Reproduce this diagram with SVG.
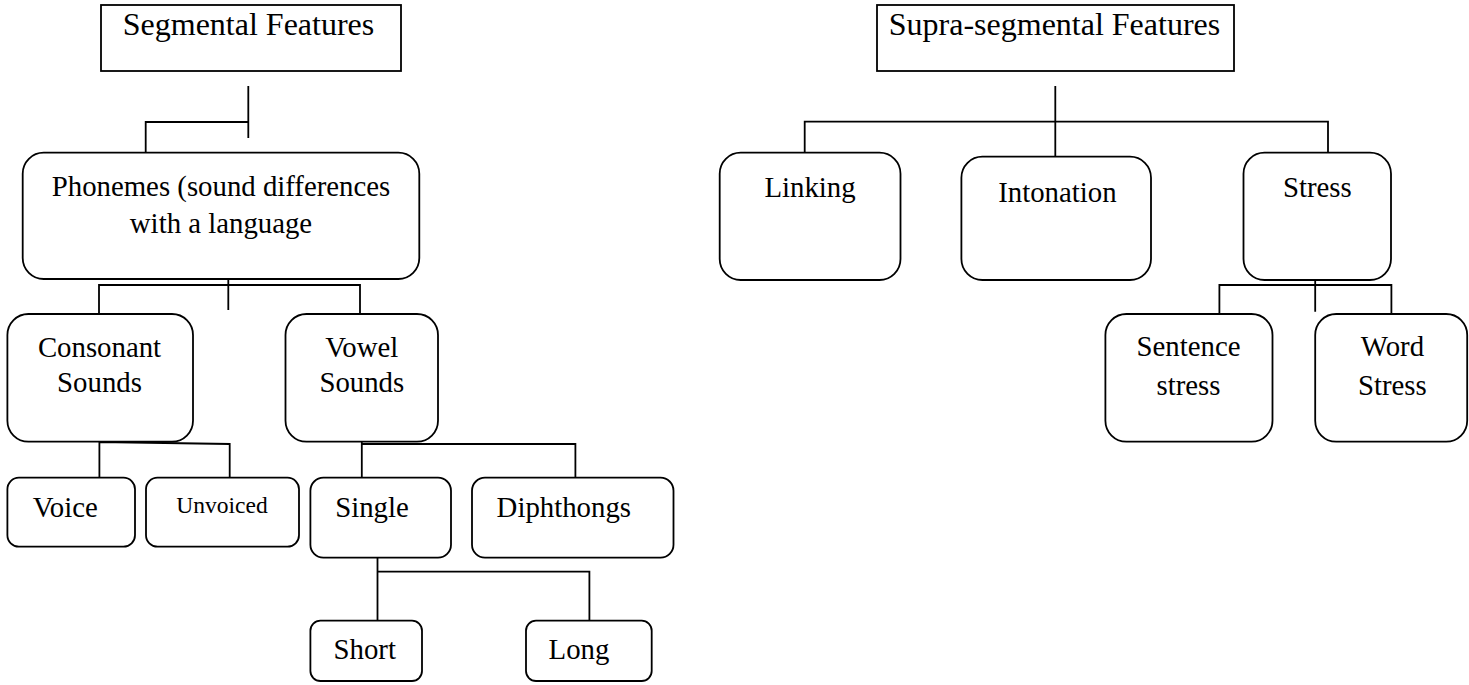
<svg xmlns="http://www.w3.org/2000/svg" width="1469" height="685" viewBox="0 0 1469 685">
<style>
.box{fill:#fff;stroke:#000;stroke-width:1.8}
.ln{fill:none;stroke:#000;stroke-width:1.8}
.n{font-family:"Liberation Serif","Times New Roman",serif;font-size:28.8px;fill:#000;text-anchor:middle}
.t{font-family:"Liberation Serif","Times New Roman",serif;font-size:32px;fill:#000;text-anchor:middle}
.s{font-family:"Liberation Serif","Times New Roman",serif;font-size:23.5px;fill:#000;text-anchor:middle}
</style>
<rect width="1469" height="685" fill="#fff"/>
<g id="connectors">
<path class="ln" d="M248.3,86 V138 M248.3,122 H145.7 V152.7"/>
<path class="ln" d="M228.3,254 V310 M99,314 V285 H360 V314"/>
<path class="ln" d="M99.4,415 V477.7 M99.4,442 L229.7,444 V477.7"/>
<path class="ln" d="M361.8,415 V477.7 M361.8,444 H575.4 V477.7"/>
<path class="ln" d="M377.5,531.7 V620.7 M377.5,571.7 H589.4 V620.7"/>
<path class="ln" d="M1055.3,86 V156.7 M804.7,152.7 V121.7 H1328 V152.7"/>
<path class="ln" d="M1315.2,254 V311.7 M1219.4,314 V285 H1391.4 V314"/>
</g>
<g id="segmental"><rect class="box" x="101" y="5" width="300" height="66"/><text class="t" x="248.5" y="35">Segmental Features</text></g>
<g id="phonemes"><rect class="box" x="22.7" y="152.7" width="396.6" height="126.3" rx="21"/><text class="n" x="221" y="195.5">Phonemes (sound differences</text><text class="n" x="221" y="232.5">with a language</text></g>
<g id="consonant"><rect class="box" x="7.4" y="314" width="185.6" height="127.7" rx="21"/><text class="n" x="99.5" y="356.7">Consonant</text><text class="n" x="99.5" y="392">Sounds</text></g>
<g id="vowel"><rect class="box" x="285.5" y="314" width="152.5" height="127.7" rx="21"/><text class="n" x="361.8" y="356.7">Vowel</text><text class="n" x="361.8" y="392">Sounds</text></g>
<g id="voice"><rect class="box" x="7.4" y="477.7" width="127.6" height="69" rx="11.5"/><text class="n" x="65.3" y="517">Voice</text></g>
<g id="unvoiced"><rect class="box" x="146" y="477.7" width="153" height="69" rx="11.5"/><text class="s" x="222" y="512.5">Unvoiced</text></g>
<g id="single"><rect class="box" x="310.4" y="477.7" width="140.6" height="80" rx="13"/><text class="n" x="372" y="517">Single</text></g>
<g id="diphthongs"><rect class="box" x="472" y="477.7" width="201.5" height="80" rx="13"/><text class="n" x="563.8" y="517">Diphthongs</text></g>
<g id="short"><rect class="box" x="310.4" y="620.7" width="111.6" height="60.3" rx="10"/><text class="n" x="364.7" y="659.3">Short</text></g>
<g id="long"><rect class="box" x="526" y="620.7" width="125.7" height="60.3" rx="10"/><text class="n" x="579" y="659.3">Long</text></g>
<g id="supra"><rect class="box" x="877" y="5" width="357" height="66"/><text class="t" x="1054.5" y="35">Supra-segmental Features</text></g>
<g id="linking"><rect class="box" x="719.7" y="152.7" width="180.8" height="127.3" rx="21"/><text class="n" x="810" y="196.7">Linking</text></g>
<g id="intonation"><rect class="box" x="961.4" y="156.7" width="189.6" height="123.3" rx="21"/><text class="n" x="1057.4" y="201.7">Intonation</text></g>
<g id="stress"><rect class="box" x="1243.5" y="152.7" width="147.5" height="127.3" rx="21"/><text class="n" x="1317.4" y="196.7">Stress</text></g>
<g id="sentence-stress"><rect class="box" x="1105.4" y="314" width="167.1" height="127.7" rx="21"/><text class="n" x="1188.5" y="356">Sentence</text><text class="n" x="1188.5" y="395">stress</text></g>
<g id="word-stress"><rect class="box" x="1315.2" y="314" width="152" height="127.7" rx="21"/><text class="n" x="1392.4" y="356">Word</text><text class="n" x="1392.4" y="395">Stress</text></g>
</svg>
